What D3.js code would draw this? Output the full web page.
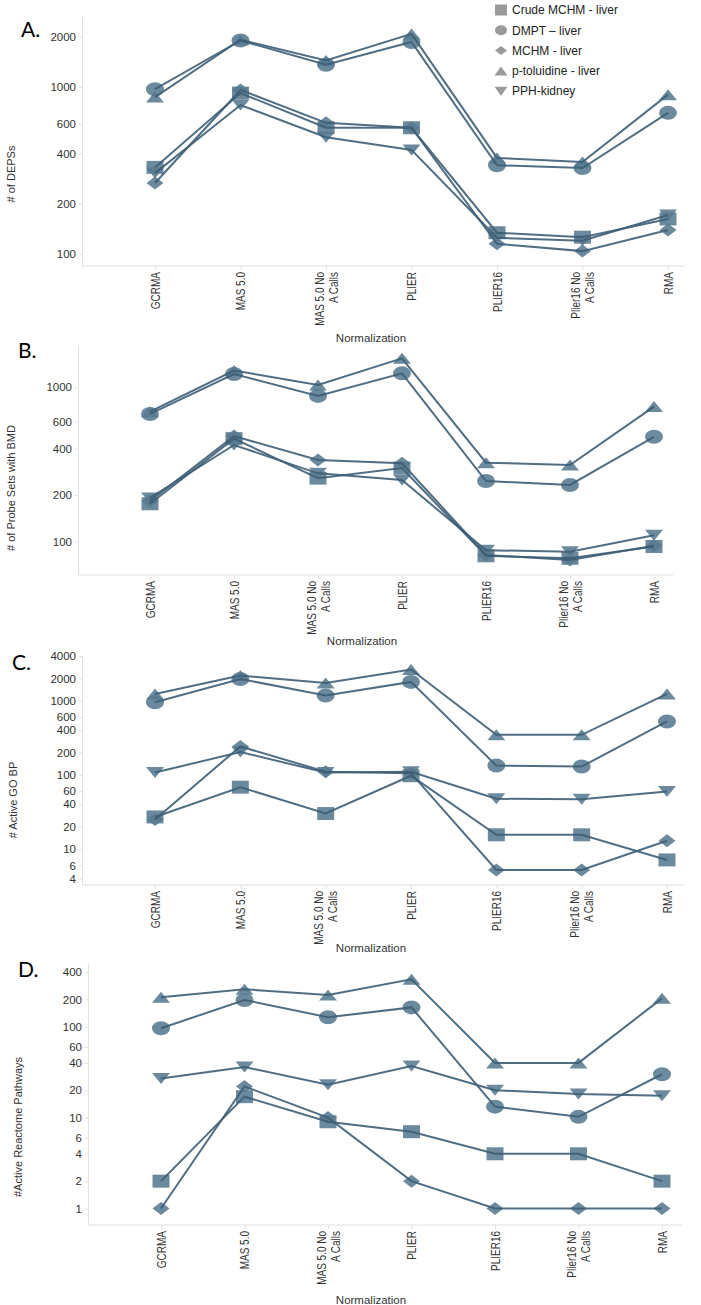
<!DOCTYPE html>
<html><head><meta charset="utf-8">
<script src="https://cdn.jsdelivr.net/npm/d3@7"></script>
<style>body{margin:0;background:#fff}</style>
</head><body>
<svg id="chart" width="701" height="1305"></svg>
<script>
// ---------- DATA ----------
const categories = ["GCRMA", "MAS 5.0", "MAS 5.0 No\nA Calls", "PLIER", "PLIER16", "Plier16 No\nA Calls", "RMA"];
const seriesNames = ["Crude MCHM - liver", "DMPT \u2013 liver", "MCHM - liver", "p-toluidine - liver", "PPH-kidney"];
const seriesShapes = ["square", "circle", "diamond", "triangle", "triangleDown"];

// Panel A: # of DEPSs (order: Crude MCHM, DMPT, MCHM, p-toluidine, PPH)
const depsValues = [
  [330, 920, 570, 570, 134, 126, 162],
  [970, 1900, 1360, 1860, 340, 327, 700],
  [266, 960, 610, 570, 115, 104, 139],
  [870, 1920, 1440, 2080, 376, 355, 900],
  [305, 780, 500, 420, 125, 120, 171]
];
// Panel B: # of Probe Sets with BMD
const bmdValues = [
  [176, 465, 258, 300, 81, 78, 93],
  [672, 1220, 880, 1232, 247, 233, 478],
  [183, 483, 338, 322, 82, 76, 94],
  [695, 1285, 1035, 1540, 325, 314, 750],
  [192, 423, 277, 251, 88, 86, 110]
];
// Panel C: # Active GO BP
const goValues = [
  [27, 68, 30, 97, 15.5, 15.5, 7.1],
  [950, 1960, 1170, 1790, 133, 129, 524],
  [25, 241, 110, 105, 5.2, 5.2, 12.9],
  [1230, 2180, 1730, 2630, 346, 346, 1230],
  [107, 203, 107, 110, 47.4, 46.8, 59.5]
];
// Panel D: #Active Reactome Pathways
const reactomeValues = [
  [2, 17, 9, 7, 4, 4, 2],
  [96, 197, 127, 163, 13.2, 10.2, 30],
  [1, 22, 10, 2, 1, 1, 1],
  [211, 258, 223, 332, 40, 40, 205],
  [27, 36, 23, 37, 20, 18.2, 17.4]
];

const ticksA = [100, 200, 400, 600, 1000, 2000];
const ticksB = [100, 200, 400, 600, 1000];
const ticksC = [4, 6, 10, 20, 40, 60, 100, 200, 400, 600, 1000, 2000, 4000];
const ticksD = [1, 2, 4, 6, 10, 20, 40, 60, 100, 200, 400];

const panelLetters = ["A.", "B.", "C.", "D."];
const yTitles = ["# of DEPSs", "# of Probe Sets with BMD", "# Active GO BP", "#Active Reactome Pathways"];
const xTitle = "Normalization";

// ---------- LAYOUT ----------
const layout = [
  {values: depsValues, ticks: ticksA, domain: [84.7, 2626], left: 82, right: 685, top: 17, bottom: 266, x0: 155, x1: 668,
   letter: [21, 37], ytitle: [15, 174], xtitle: [371, 342]},
  {values: bmdValues, ticks: ticksB, domain: [60.8, 1880], left: 78, right: 673, top: 345, bottom: 575, x0: 150, x1: 654,
   letter: [18, 358], ytitle: [15, 488], xtitle: [362, 645]},
  {values: goValues, ticks: ticksC, domain: [3.26, 4000], left: 82, right: 684, top: 656, bottom: 885, x0: 155, x1: 667,
   letter: [12, 670], ytitle: [17, 800], xtitle: [371, 952]},
  {values: reactomeValues, ticks: ticksD, domain: [0.659, 502], left: 88, right: 682, top: 963, bottom: 1225, x0: 161, x1: 662,
   letter: [18, 977], ytitle: [22, 1127], xtitle: [371, 1304]}
];

const FONT = "'Liberation Sans', Arial, sans-serif";
const markerFill = "#587a90";
const lineColor = "#3d5e75";
const axisColor = "#e0e0e0";

function shapePath(type, w, h) {
  const a = w / 2, b = h / 2;
  switch (type) {
    case "square": return `M${-a},${-b}H${a}V${b}H${-a}Z`;
    case "circle": return `M${-a},0A${a},${b} 0 1,0 ${a},0A${a},${b} 0 1,0 ${-a},0Z`;
    case "diamond": return `M0,${-b}L${a},0L0,${b}L${-a},0Z`;
    case "triangle": return `M0,${-b}L${a},${b}L${-a},${b}Z`;
    case "triangleDown": return `M0,${b}L${a},${-b}L${-a},${-b}Z`;
  }
}
const markerSize = {square: [17, 13], circle: [18, 14], diamond: [17, 13], triangle: [18, 11], triangleDown: [18, 11]};
const legendSize = {square: [12, 11], circle: [12, 10], diamond: [12, 9], triangle: [13, 9], triangleDown: [13, 9]};

const svg = d3.select("#chart");

layout.forEach((p, pi) => {
  const g = svg.append("g");
  const x = d3.scalePoint().domain(categories).range([p.x0, p.x1]);
  const y = d3.scaleLog().domain(p.domain).range([p.bottom, p.top]);

  // y axis
  const ya = g.append("g").attr("transform", `translate(${p.left},0)`)
    .call(d3.axisLeft(y).tickValues(p.ticks).tickFormat(d3.format("d")).tickSize(3).tickSizeOuter(0));
  ya.select(".domain").attr("stroke", axisColor);
  ya.selectAll(".tick line").attr("stroke", axisColor);
  ya.selectAll(".tick text").attr("font-family", FONT).attr("font-size", 11.5).attr("fill", "#333").attr("x", -6);

  // x axis baseline
  g.append("line").attr("x1", p.left).attr("x2", p.right).attr("y1", p.bottom).attr("y2", p.bottom)
    .attr("stroke", axisColor);
  const xa = g.append("g").attr("transform", `translate(0,${p.bottom})`)
    .call(d3.axisBottom(x).tickSize(4).tickFormat(""));
  xa.select(".domain").remove();
  xa.selectAll(".tick line").attr("stroke", axisColor);
  xa.selectAll(".tick text").remove();
  xa.selectAll(".tick").each(function(d) {
    const lines = d.split("\n");
    const t = d3.select(this).append("text")
      .attr("transform", "translate(0,6) scale(1.2,1) rotate(-90)")
      .attr("text-anchor", "end").attr("font-family", FONT).attr("font-size", 10).attr("fill", "#333");
    lines.forEach((ln, i) => {
      t.append("tspan").attr("x", 0).attr("y", (i - (lines.length - 1) / 2) * 11.5).attr("dy", "0.35em").text(ln);
    });
  });

  // axis titles
  g.append("text").attr("transform", `translate(${p.ytitle[0]},${p.ytitle[1]}) rotate(-90)`)
    .attr("text-anchor", "middle").attr("font-family", FONT).attr("font-size", 11).attr("fill", "#333")
    .text(yTitles[pi]);
  g.append("text").attr("x", p.xtitle[0]).attr("y", p.xtitle[1])
    .attr("text-anchor", "middle").attr("font-family", FONT).attr("font-size", 11.5).attr("fill", "#333")
    .text(xTitle);
  g.append("text").attr("x", p.letter[0]).attr("y", p.letter[1])
    .attr("font-family", "Lato, 'Open Sans', sans-serif").attr("font-size", 21).attr("fill", "#000")
    .text(panelLetters[pi]);

  // markers
  p.values.forEach((vals, si) => {
    const shape = seriesShapes[si];
    const [w, h] = markerSize[shape];
    g.append("g").selectAll("path").data(vals).join("path")
      .attr("d", shapePath(shape, w, h))
      .attr("transform", (v, i) => `translate(${x(categories[i])},${y(v)})`)
      .attr("fill", markerFill).attr("fill-opacity", 0.88);
  });
  // lines on top
  const line = d3.line().x((v, i) => x(categories[i])).y(v => y(v));
  p.values.forEach(vals => {
    g.append("path").attr("d", line(vals)).attr("fill", "none")
      .attr("stroke", lineColor).attr("stroke-width", 2).attr("stroke-opacity", 0.9);
  });
});

// legend
const lg = svg.append("g");
seriesNames.forEach((name, i) => {
  const cy = 10 + i * 20.3;
  const shape = seriesShapes[i];
  const [w, h] = legendSize[shape];
  lg.append("path").attr("d", shapePath(shape, w, h)).attr("transform", `translate(501,${cy})`)
    .attr("fill", "#9a9a9a");
  lg.append("text").attr("x", 512).attr("y", cy).attr("dy", "0.35em")
    .attr("font-family", FONT).attr("font-size", 12).attr("fill", "#222").text(name);
});
</script>
</body></html>
